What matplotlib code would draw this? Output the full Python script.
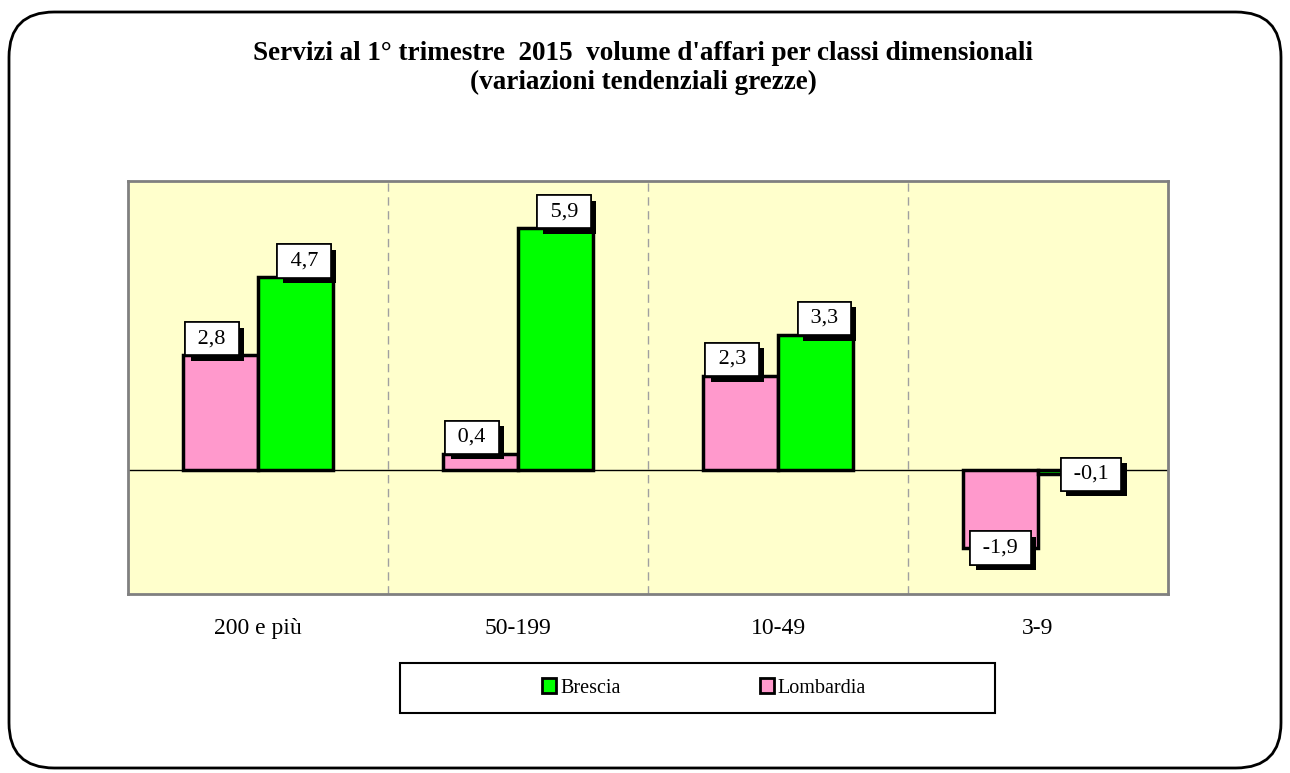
import matplotlib.pyplot as plt
import matplotlib.patheffects as pe
from matplotlib.patches import FancyBboxPatch, Rectangle, Patch
import numpy as np

# Data
categories = ['200 e più', '50-199', '10-49', '3-9']
lombardia = [2.8, 0.4, 2.3, -1.9]
brescia = [4.7, 5.9, 3.3, -0.1]

title = "Servizi al 1° trimestre  2015  volume d'affari per classi dimensionali\n(variazioni tendenziali grezze)"

pink = '#FF99CC'
green = '#00FF00'
bg = '#FFFFCC'

plt.rcParams['font.family'] = ['Liberation Serif', 'DejaVu Serif']

fig = plt.figure(figsize=(12.9, 7.73), dpi=100)

# Rounded outer frame
frame = FancyBboxPatch((9 / 1290, 1 - 768 / 773), 1272 / 1290, 756 / 773,
                       boxstyle='round,pad=0,rounding_size=0.035',
                       transform=fig.transFigure, fc='white', ec='black',
                       lw=2, zorder=-5, mutation_aspect=1290 / 773)
fig.patches.append(frame)

ax = fig.add_axes([128 / 1290, 1 - 594 / 773, 1040 / 1290, 413 / 773])
ax.set_zorder(3)
ax.set_facecolor(bg)

x = np.arange(len(categories))
w = 0.29
b_l = ax.bar(x - w / 2, lombardia, w, color=pink, edgecolor='black', lw=2.5, zorder=3)
b_b = ax.bar(x + w / 2, brescia, w, color=green, edgecolor='black', lw=2.5, zorder=3)

ax.axhline(0, color='black', lw=1, zorder=2)
for xb in x[:-1] + 0.5:
    ax.axvline(xb, color='#A0A0A0', lw=1, ls=(0, (6, 4)), zorder=1)

ax.set_xlim(-0.5, len(categories) - 0.5)
ax.set_ylim(-3.02, 7.05)
ax.set_yticks([])
ax.set_xticks(x)
ax.set_xticklabels(categories, fontsize=17)
ax.tick_params(axis='x', length=0, pad=17)
for s in ax.spines.values():
    s.set_color('#808080')
    s.set_linewidth(2)

# Value labels with shadowed boxes
def label(xv, v, dx, dy, va):
    txt = ' ' + f'{v:.1f}'.replace('.', ',') + ' '
    t = ax.annotate(txt, (xv, v), xytext=(dx, dy),
                    textcoords='offset points', ha='center', va=va,
                    fontsize=16, zorder=5,
                    bbox=dict(boxstyle='square,pad=0.32', fc='white', ec='black', lw=1.2))
    t.get_bbox_patch().set_path_effects([
        pe.withSimplePatchShadow(offset=(4, -4), shadow_rgbFace='black', alpha=1),
        pe.Normal()])

for i in range(len(categories)):
    lv = lombardia[i]
    bv = brescia[i]
    if lv >= 0:
        label(x[i] - w / 2, lv, -6, 5, 'bottom')
    else:
        label(x[i] - w / 2, lv, 0, 0, 'center')
    if bv >= 0:
        label(x[i] + w / 2, bv, 6, 5, 'bottom')
    else:
        label(x[i] + w / 2, bv, 11, 0, 'center')

fig.suptitle(title, x=643 / 1290, y=1 - 41 / 773, fontsize=19.5, fontweight='bold',
             linespacing=1.2)

# Legend
fig.patches.append(Rectangle((400 / 1290, 1 - 713 / 773), 595 / 1290, 50 / 773,
                             transform=fig.transFigure, fc='white', ec='black', lw=1.5,
                             zorder=-1))
handles = [Patch(fc=green, ec='black', lw=2), Patch(fc=pink, ec='black', lw=2)]
fig.legend(handles, ['Brescia', 'Lombardia'], loc='center', ncol=2,
           bbox_to_anchor=(704 / 1290, 1 - 688 / 773), frameon=False, fontsize=14.5,
           handlelength=0.7, handleheight=0.7, handletextpad=0.2, columnspacing=6.9)

fig.savefig('out.png', dpi=100)
